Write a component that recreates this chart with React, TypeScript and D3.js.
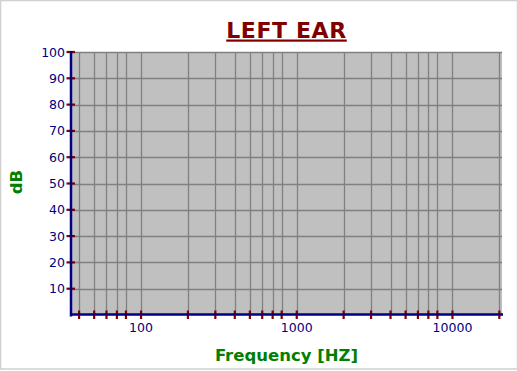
import React from "react";
import * as d3 from "d3";

const title = "LEFT EAR";
const xTitle = "Frequency [HZ]";
const yTitle = "dB";
const freqDomain = [35.5, 20800];
const dbDomain = [0, 100];
const freqTicks = [40, 50, 60, 70, 80, 100, 200, 300, 400, 500, 600, 700, 800, 1000, 2000, 3000, 4000, 5000, 6000, 7000, 8000, 10000, 20000];
const freqLabels = [100, 1000, 10000];
const dbTicks = [10, 20, 30, 40, 50, 60, 70, 80, 90, 100];

const W = 517;
const H = 371;
const left = 71;
const right = 502;
const top = 52;
const bottom = 315;
const font = "'DejaVu Sans', Verdana, sans-serif";

export default function App() {
  const x = d3.scaleLog().domain(freqDomain).range([left, right]);
  const y = d3.scaleLinear().domain(dbDomain).range([bottom, top]);
  return (
    <svg width={W} height={H} style={{ position: "absolute", left: 0, top: 0 }} fontFamily={font}>
      <rect x={0} y={0} width={W} height={H} fill="#fff" />
      <rect x={0.5} y={0.5} width={W} height={368.5} fill="none" stroke="#d0d0d0" strokeWidth={1.5} />
      <text x={(left + right) / 2} y={37.5} textAnchor="middle" fontSize={22} letterSpacing={0.6} fontWeight="bold" fill="#800000" style={{ textDecoration: "underline" }}>{title}</text>
      <rect x={left} y={top} width={right - left} height={bottom - top} fill="#c0c0c0" />
      {dbTicks.map((d) => (
        <line key={"gy" + d} x1={left} x2={right} y1={Math.round(y(d)) + 0.5} y2={Math.round(y(d)) + 0.5} stroke="#808080" strokeWidth={1.3} />
      ))}
      {freqTicks.map((f) => (
        <line key={"gx" + f} x1={Math.round(x(f)) + 0.5} x2={Math.round(x(f)) + 0.5} y1={top} y2={bottom} stroke="#808080" strokeWidth={1.3} />
      ))}
      {dbTicks.map((d) => (
        <line key={"ty" + d} x1={66.5} x2={75} y1={y(d)} y2={y(d)} stroke="#800000" strokeWidth={2.2} />
      ))}
      {freqTicks.map((f) => (
        <line key={"tx" + f} x1={x(f)} x2={x(f)} y1={310.5} y2={319} stroke="#800000" strokeWidth={2.2} />
      ))}
      <line x1={left} x2={left} y1={top - 1} y2={bottom + 1.5} stroke="#000080" strokeWidth={2.5} />
      <line x1={left} x2={right + 1} y1={bottom - 0.5} y2={bottom - 0.5} stroke="#000080" strokeWidth={2.5} />
      {dbTicks.map((d) => (
        <text key={"ly" + d} x={65} y={y(d) + 4.5} textAnchor="end" fontSize={12.5} fill="#000080">{d}</text>
      ))}
      {freqLabels.map((f) => (
        <text key={"lx" + f} x={x(f)} y={332} textAnchor="middle" fontSize={12.5} fill="#000080">{f}</text>
      ))}
      <text x={(left + right) / 2} y={361} textAnchor="middle" fontSize={16.5} fontWeight="bold" fill="#008000">{xTitle}</text>
      <text transform="translate(22,182) rotate(-90)" textAnchor="middle" fontSize={16.5} fontWeight="bold" fill="#008000">{yTitle}</text>
    </svg>
  );
}
